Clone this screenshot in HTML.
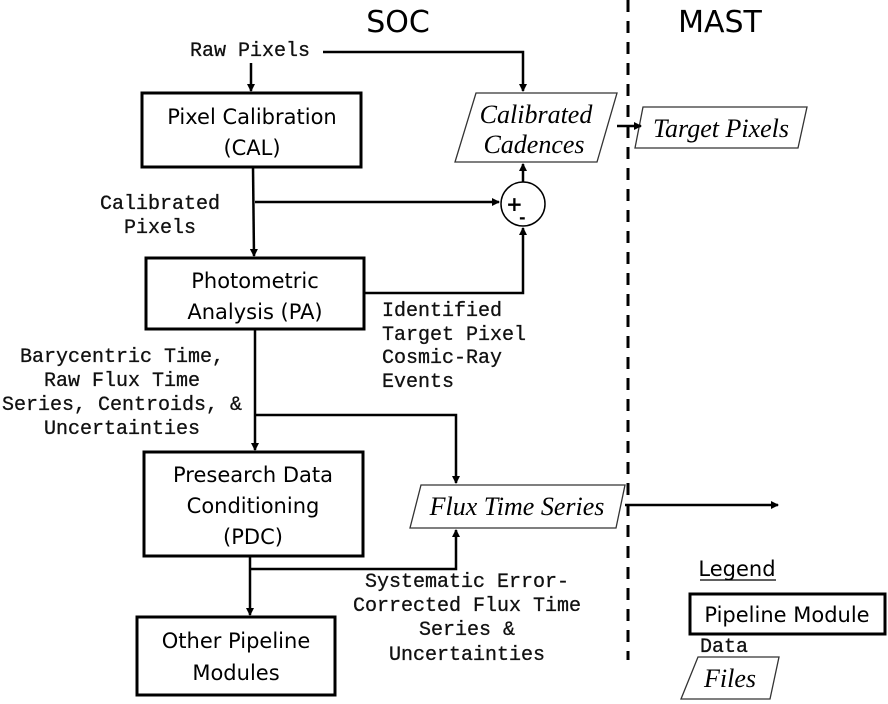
<!DOCTYPE html>
<html><head><meta charset="utf-8"><style>
html,body{margin:0;padding:0;background:#fff;}
svg{display:block;}
.m{font-family:"Liberation Mono",monospace;font-size:20px;fill:#111;stroke:#111;stroke-width:0.3;}
.s{font-family:"DejaVu Sans","Liberation Sans",sans-serif;font-size:21px;fill:#000;}
.i{font-family:"Liberation Serif",serif;font-style:italic;font-size:26px;fill:#000;}
</style></head><body>
<svg width="888" height="704" viewBox="0 0 888 704" xmlns="http://www.w3.org/2000/svg">
<defs><marker id="a" markerWidth="8" markerHeight="8" refX="7" refY="4" orient="auto" markerUnits="userSpaceOnUse"><path d="M0,0 L8,4 L0,8 z" fill="#000"/></marker></defs>
<text x="398" y="32" font-family="DejaVu Sans,Liberation Sans,sans-serif" font-size="30" text-anchor="middle">SOC</text>
<text x="720" y="32" font-family="DejaVu Sans,Liberation Sans,sans-serif" font-size="30" text-anchor="middle">MAST</text>
<line x1="628" y1="0" x2="628" y2="660" stroke="#000" stroke-width="3" stroke-dasharray="12,9"/>
<g fill="none" stroke="#000" stroke-width="3">
<rect x="142" y="93" width="219" height="74"/>
<rect x="146" y="258" width="218" height="71"/>
<rect x="144" y="452" width="219" height="104"/>
<rect x="137" y="617" width="198" height="78"/>
<rect x="690" y="594" width="195" height="40"/>
</g>
<g fill="#fff" stroke="#333" stroke-width="1.3">
<polygon points="476,93 617,93 597,162 455,162"/>
<polygon points="643,107 807,107 798,148 635,148"/>
<polygon points="421,485 625,485 616,528 410,528"/>
<polygon points="698,657 779,657 770,699 681,699"/>
</g>
<circle cx="523" cy="204" r="22" fill="#fff" stroke="#000" stroke-width="1.5"/>
<text x="506" y="211" font-family="DejaVu Sans,sans-serif" font-size="20" font-weight="bold">+</text>
<text x="519" y="223" font-family="DejaVu Sans,sans-serif" font-size="16" font-weight="bold">-</text>
<g fill="none" stroke="#000" stroke-width="2.5" marker-end="url(#a)">
<path d="M251,63 V91"/>
<path d="M323,52 H523 V91"/>
<path d="M253,167 L254,256"/>
<path d="M255,202 H499"/>
<path d="M523,182 V164"/>
<path d="M364,293 H523 V228"/>
<path d="M255,330 V450"/>
<path d="M255,415 H456 V483"/>
<path d="M617,126 H641"/>
<path d="M625,505 H778"/>
<path d="M250,556 V615"/>
<path d="M250,569 H456 V530"/>
</g>
<text class="m" x="250" y="56" text-anchor="middle">Raw Pixels</text>
<text class="m" x="160" y="209" text-anchor="middle">Calibrated</text>
<text class="m" x="160" y="233" text-anchor="middle">Pixels</text>
<text class="m" x="382" y="316">Identified</text>
<text class="m" x="382" y="340">Target Pixel</text>
<text class="m" x="382" y="363">Cosmic-Ray</text>
<text class="m" x="382" y="387">Events</text>
<text class="m" x="122" y="362" text-anchor="middle">Barycentric Time,</text>
<text class="m" x="122" y="386" text-anchor="middle">Raw Flux Time</text>
<text class="m" x="122" y="410" text-anchor="middle">Series, Centroids, &amp;</text>
<text class="m" x="122" y="434" text-anchor="middle">Uncertainties</text>
<text class="m" x="467" y="587" text-anchor="middle">Systematic Error-</text>
<text class="m" x="467" y="611" text-anchor="middle">Corrected Flux Time</text>
<text class="m" x="467" y="635" text-anchor="middle">Series &amp;</text>
<text class="m" x="467" y="660" text-anchor="middle">Uncertainties</text>
<text class="m" x="700" y="652">Data</text>
<text class="s" x="252" y="124" text-anchor="middle">Pixel Calibration</text>
<text class="s" x="252" y="155" text-anchor="middle">(CAL)</text>
<text class="s" x="255" y="288" text-anchor="middle">Photometric</text>
<text class="s" x="255" y="319" text-anchor="middle">Analysis (PA)</text>
<text class="s" x="253" y="482" text-anchor="middle">Presearch Data</text>
<text class="s" x="253" y="513" text-anchor="middle">Conditioning</text>
<text class="s" x="253" y="544" text-anchor="middle">(PDC)</text>
<text class="s" x="236" y="648" text-anchor="middle">Other Pipeline</text>
<text class="s" x="236" y="680" text-anchor="middle">Modules</text>
<text class="s" x="787" y="622" text-anchor="middle">Pipeline Module</text>
<text class="s" x="737" y="576" text-anchor="middle">Legend</text>
<line x1="700" y1="580" x2="776" y2="580" stroke="#000" stroke-width="1.2"/>
<text class="i" x="536" y="123" text-anchor="middle">Calibrated</text>
<text class="i" x="534" y="153" text-anchor="middle">Cadences</text>
<text class="i" x="721" y="137" text-anchor="middle">Target Pixels</text>
<text class="i" x="517" y="515" text-anchor="middle">Flux Time Series</text>
<text class="i" x="730" y="687" text-anchor="middle">Files</text>
</svg>
</body></html>
